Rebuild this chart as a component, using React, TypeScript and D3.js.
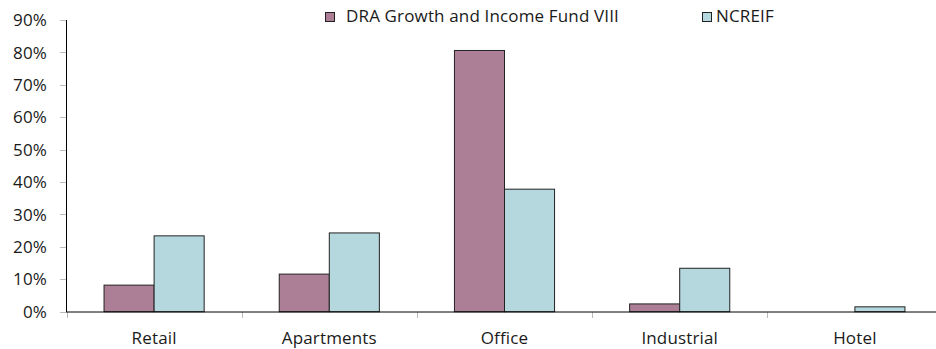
import React from "react";
import * as d3 from "d3";

const categories = ["Retail", "Apartments", "Office", "Industrial", "Hotel"];
const seriesNames = ["DRA Growth and Income Fund VIII", "NCREIF"];
const draValues = [8.2, 11.6, 80.6, 2.4, 0];
const ncreifValues = [23.4, 24.3, 37.8, 13.4, 1.5];
const yTicks = [0, 10, 20, 30, 40, 50, 60, 70, 80, 90];
const colors = ["#ad7f96", "#b5d8de"];

const W = 936;
const H = 349;
const FONT = "'Open Sans', Lato, sans-serif";
const FS = 17;
const LS = 0.15;

export default function App() {
  const x0 = 66.5;
  const band = 175.2;
  const x = d3
    .scaleBand<string>()
    .domain(categories)
    .range([x0, x0 + band * categories.length])
    .paddingInner(0)
    .paddingOuter(0);
  const xs = d3.scaleBand<number>().domain([0, 1]).range([0, band]).paddingInner(0).paddingOuter(0.75);
  const y = d3.scaleLinear().domain([0, 90]).range([311.7, 20]);
  const series = [draValues, ncreifValues];

  return (
    <svg width={W} height={H} style={{ position: "absolute", left: 0, top: 0, background: "#fff" }}>
      {/* y ticks */}
      {yTicks.map((t) => (
        <g key={t}>
          <line x1={60} x2={66} y1={Math.round(y(t)) + 0.5} y2={Math.round(y(t)) + 0.5} stroke="#bbb" />
          <text
            x={47}
            y={y(t)}
            dy="0.36em"
            textAnchor="end"
            fontFamily={FONT}
            fontSize={FS}
            letterSpacing={LS}
            fill="#1a1a1a"
          >
            {t}%
          </text>
        </g>
      ))}
      {/* x ticks */}
      {categories.map((c, i) => (
        <line
          key={"xt" + i}
          x1={Math.round(x(c)!) + 0.5}
          x2={Math.round(x(c)!) + 0.5}
          y1={312}
          y2={318}
          stroke="#bbb"
        />
      ))}
      {/* bars */}
      {series.map((vals, si) =>
        vals.map((v, ci) =>
          v > 0 ? (
            <rect
              key={si + "-" + ci}
              x={x(categories[ci])! + xs(si)!}
              y={y(v)}
              width={xs.bandwidth()}
              height={y(0) - y(v)}
              fill={colors[si]}
              stroke="#222"
              strokeWidth={1}
            />
          ) : null
        )
      )}
      {/* axes */}
      <line x1={66.5} x2={66.5} y1={20} y2={312} stroke="#000" />
      <line x1={66} x2={W} y1={312} y2={312} stroke="#000" />
      {/* category labels */}
      {categories.map((c) => (
        <text
          key={c}
          x={x(c)! + band / 2}
          y={344}
          textAnchor="middle"
          fontFamily={FONT}
          fontSize={FS}
          letterSpacing={LS}
          fill="#1a1a1a"
        >
          {c}
        </text>
      ))}
      {/* legend */}
      <rect x={325.5} y={12.5} width={9} height={9} fill={colors[0]} stroke="#222" />
      <text x={346} y={22} fontFamily={FONT} fontSize={FS} letterSpacing={LS} fill="#1a1a1a">
        {seriesNames[0]}
      </text>
      <rect x={702.5} y={12.5} width={9} height={9} fill={colors[1]} stroke="#222" />
      <text x={716} y={22} fontFamily={FONT} fontSize={FS} letterSpacing={LS} fill="#1a1a1a">
        {seriesNames[1]}
      </text>
    </svg>
  );
}
